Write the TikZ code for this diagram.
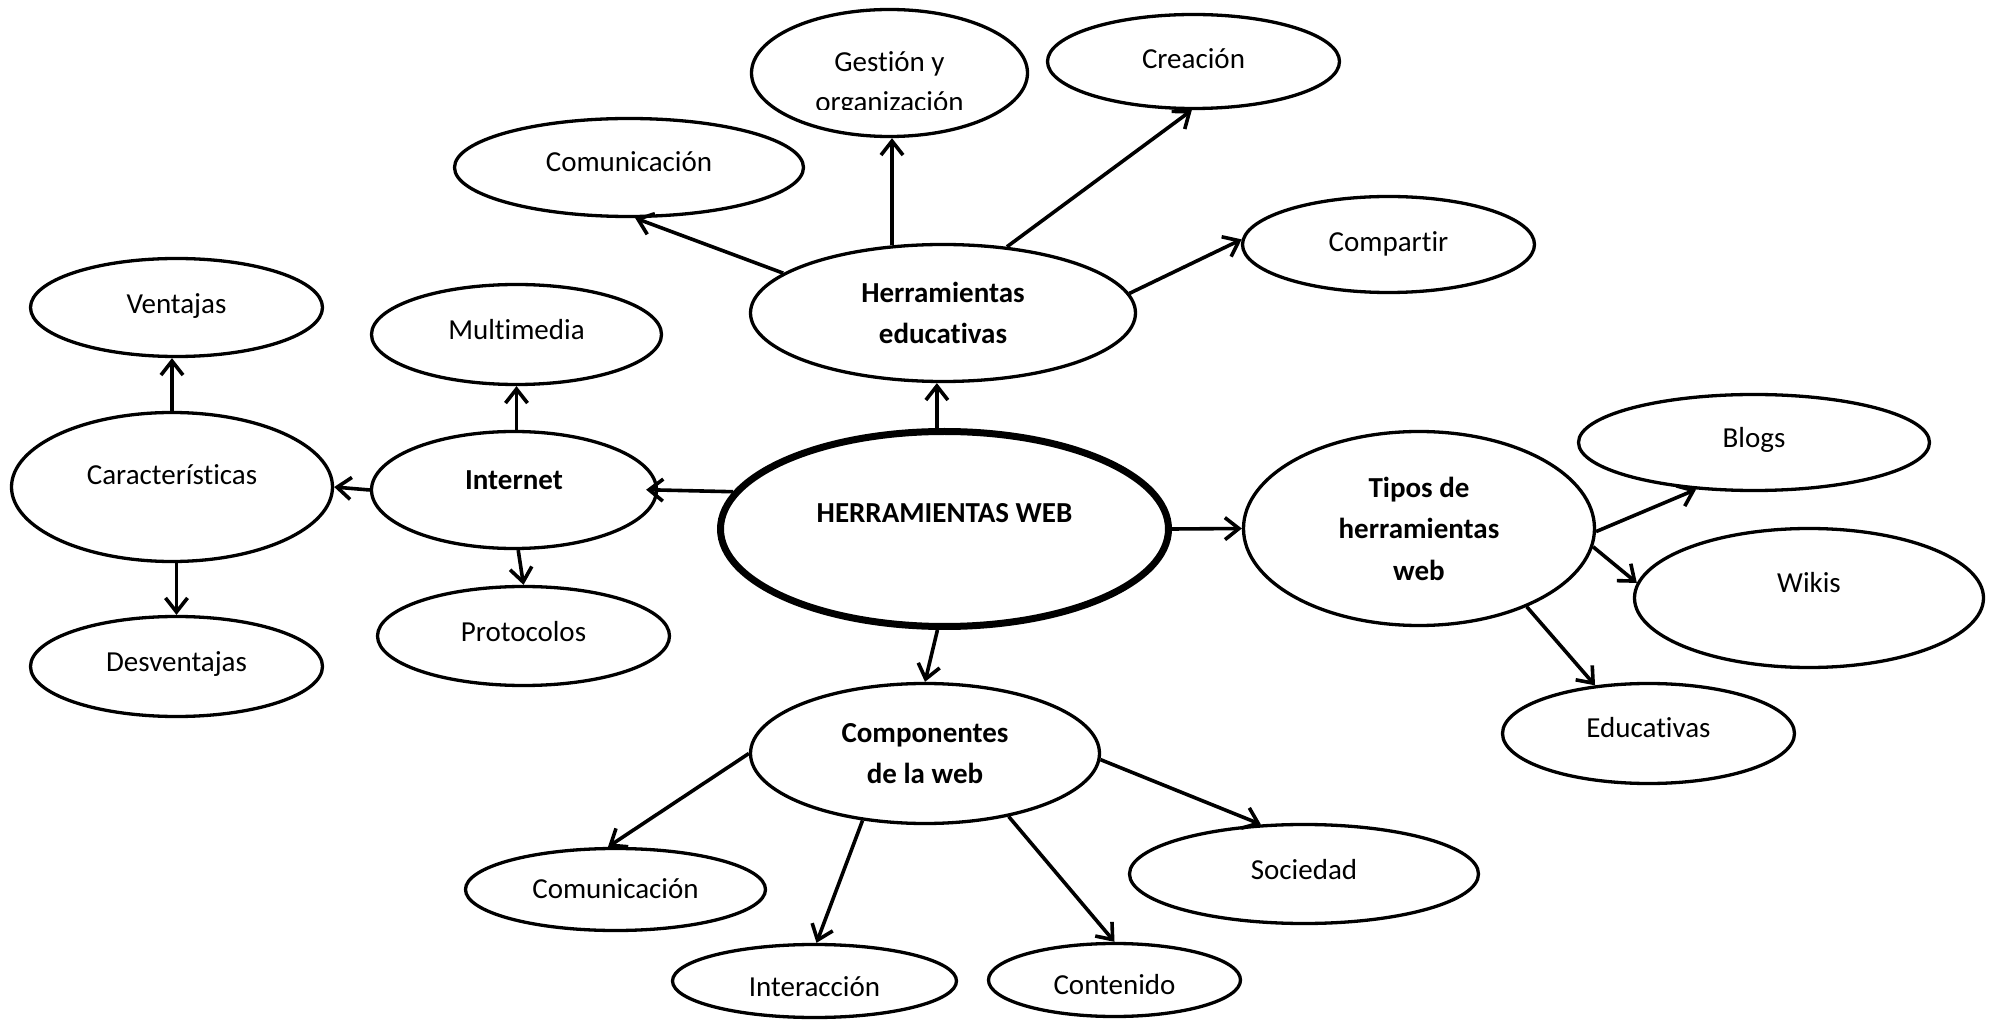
\documentclass[tikz,border=0pt]{standalone}
\usepackage{fontspec}
\setmainfont{Carlito}[Ligatures={NoCommon}]
\usetikzlibrary{shapes.geometric,arrows.meta}
\tikzset{
  ell/.style={ellipse, draw, line width=1.65pt, inner sep=0pt,
    font=\fontsize{14.5}{20.75}\selectfont, text height=9.4pt, text depth=0pt},
  bell/.style={ell, font=\fontsize{14.5}{20.75}\selectfont\bfseries},
  mell/.style={ellipse, draw, line width=1.65pt, inner sep=0pt, align=center,
    font=\fontsize{14.5}{20.75}\selectfont\bfseries},
  txt/.style={inner sep=0pt, font=\fontsize{14.5}{20.75}\selectfont},
  arr/.style={-{Straight Barb[length=7pt,width=11pt]}, line width=1.8pt},
}
\begin{document}
\begin{tikzpicture}[x=0.5pt, y=-0.5pt]
\useasboundingbox (0,0) rectangle (1999,1021);

% top cluster
\node[ell, minimum width=138pt, minimum height=63.5pt] (ges) at (889.5,73) {};
\node[txt, anchor=base] (gesA) at (889.5,72) {Gestión y};
\begin{scope}
  \clip (740,0) rectangle (1040,110);
  \node[txt, anchor=base] (gesB) at (889.5,111.5) {organización};
\end{scope}
\node[ell, minimum width=146pt, minimum height=47pt, text depth=2pt] (cre) at (1193.5,61.5) {Creación};
\node[ell, minimum width=174.5pt, minimum height=49pt, text depth=5pt] (com1) at (629,167.5) {Comunicación};
\node[ell, minimum width=146pt, minimum height=48pt, text depth=2pt] (cmp) at (1388.5,244.5) {Compartir};
\node[mell, minimum width=192.5pt, minimum height=68.5pt] (he) at (943,313) {Herramientas\\educativas};

% left cluster
\node[ell, minimum width=146pt, minimum height=49pt, text depth=3pt] (ven) at (176.5,307.5) {Ventajas};
\node[ell, minimum width=145pt, minimum height=50pt, text depth=4pt] (mul) at (516.5,334.5) {Multimedia};
\node[ell, minimum width=160.5pt, minimum height=74.5pt, text depth=12pt] (car) at (172,487) {Características};
\node[bell, minimum width=142.5pt, minimum height=58.5pt, text depth=10pt] (int) at (514,490) {Internet};
\node[ell, minimum width=146pt, minimum height=49.5pt, text depth=4pt] (pro) at (523.5,636) {Protocolos};
\node[ell, minimum width=146pt, minimum height=50pt, text depth=4pt] (des) at (176.5,666.5) {Desventajas};

% centre
\node[bell, line width=3.5pt, minimum width=224pt, minimum height=97.5pt, text depth=16pt] (hw) at (944.5,529) {HERRAMIENTAS WEB};

% bottom cluster
\node[mell, minimum width=174.5pt, minimum height=70pt] (cw) at (925,753.5) {Componentes\\de la web};
\node[ell, minimum width=150pt, minimum height=41pt] (com2) at (615.5,889.5) {Comunicación};
\node[ell, minimum width=142pt, minimum height=36.5pt, text height=15.4pt] (ita) at (814.5,981) {Interacción};
\node[ell, minimum width=126pt, minimum height=36.5pt, text height=14.4pt] (con) at (1114.5,980) {Contenido};
\node[ell, minimum width=174.5pt, minimum height=49.5pt, text depth=4pt] (soc) at (1304,874) {Sociedad};

% right cluster
\node[mell, minimum width=175.5pt, minimum height=97pt] (tip) at (1419,528.5) {Tipos de\\herramientas\\web};
\node[ell, minimum width=175.5pt, minimum height=48pt, text depth=4pt] (blo) at (1754,442.5) {Blogs};
\node[ell, minimum width=174.5pt, minimum height=69.5pt, text depth=15pt] (wik) at (1809,598) {Wikis};
\node[ell, minimum width=146pt, minimum height=50pt, text depth=5pt] (edu) at (1648.5,733.5) {Educativas};

% connectors
\draw[arr] (he.127) -- (he.127 |- ges.south);
\draw[arr] (he.166.5) -- (com1.-83);
\draw[arr] (he.46.7) -- (cre.-92);
\draw[arr] (he.6) -- (cmp.178);
\draw[arr] (he.-95 |- hw.north) -- (he.-95);
\draw[arr, shorten >=-6pt] (hw.170.5) -- (int.east);
\draw[arr] (int.west) -- (car.east);
\draw[arr] (mul.south |- int.north) -- (mul.south);
\draw[arr] (car.north) -- (car.north |- ven.south);
\draw[arr] (des.north |- car.south) -- (des.north);
\draw[arr] (int.-86) -- (pro.north);
\draw[arr] (hw.-94) -- (cw.north);
\draw[arr] (cw.west) -- (com2.100);
\draw[arr] (cw.-133) -- (ita.87);
\draw[arr] (cw.-37) -- (con.north);
\draw[arr] (cw.-2) -- (soc.131);
\draw[arr] (hw.east) -- (tip.west);
\draw[arr] (tip.-1) -- (blo.-141);
\draw[arr] (tip.-6) -- (wik.175);
\draw[arr] (tip.-36) -- (edu.138);
\end{tikzpicture}
\end{document}
